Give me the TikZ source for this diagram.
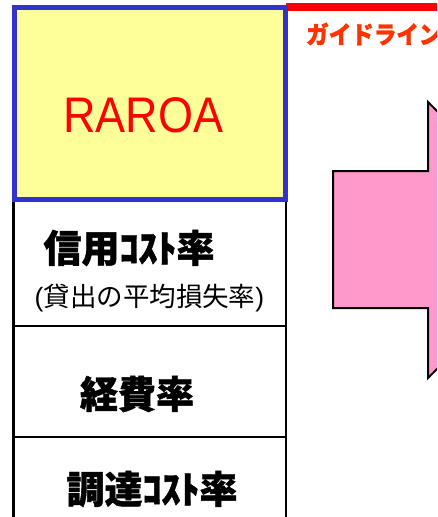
\documentclass[tikz,border=0pt]{standalone}
\usepackage{fontspec}
\setmainfont{Liberation Sans}
\newfontfamily\jp{Noto Sans CJK JP}[BoldFeatures={FakeBold=1.2}]
\definecolor{boxblue}{HTML}{3333CC}
\definecolor{boxyellow}{HTML}{FFFF99}
\definecolor{arrowpink}{HTML}{FF99CC}
\definecolor{guidered}{HTML}{FF3300}
\tikzset{
  label/.style={inner sep=0pt, anchor=center},
  rule/.style={line width=2.5pt, black},
}
\begin{document}
\begin{tikzpicture}[x=1pt,y=-1pt]
\useasboundingbox (0,0) rectangle (437,517);
\clip (0,0) rectangle (437,517);
% pink arrow
\draw[fill=arrowpink, line width=2pt, line join=miter]
  (333,171) -- (428,171) -- (428,102) -- (566,240) -- (428,378) -- (428,308) -- (333,308) -- cycle;
% red bar
\fill[red] (286,3) rectangle (437,11);
\node[label, anchor=west, text=guidered] (guide) at (306,34) {\scalebox{0.92}[1]{\jp\bfseries\fontsize{24.5}{24.5}\selectfont ガイドライン}};
% column rules
\coordinate (cl) at (13.5,200);
\coordinate (cr) at (286,200);
\coordinate (bl) at (13.5,517);
\coordinate (br) at (286,517);
\coordinate (h1l) at (13.5,326);
\coordinate (h1r) at (286,326);
\coordinate (h2l) at (13.5,437);
\coordinate (h2r) at (286,437);
\draw[rule] (cl) -- (bl);
\draw[rule] (cr) -- (br);
\draw[rule] (h1l) -- (h1r);
\draw[rule] (h2l) -- (h2r);
% RAROA box
\draw[fill=boxyellow, draw=boxblue, line width=4.5pt] (14.5,7.5) rectangle (285.5,199.5);
\node[label, text=red] (raroa) at (143.5,115) {\scalebox{0.9}[1]{\fontsize{50}{50}\selectfont RAROA}};
% texts
\node[label] (credit) at (129,248) {\jp\bfseries\fontsize{38}{38}\selectfont 信用ｺｽﾄ率};
\node[label] (loss) at (149.5,298) {\fontsize{26.5}{26.5}\selectfont (\jp 貸出の平均損失率\rmfamily)};
\node[label] (expense) at (137,394) {\jp\bfseries\fontsize{38}{38}\selectfont 経費率};
\node[label] (funding) at (152,489) {\jp\bfseries\fontsize{38}{38}\selectfont 調達ｺｽﾄ率};
\end{tikzpicture}
\end{document}
